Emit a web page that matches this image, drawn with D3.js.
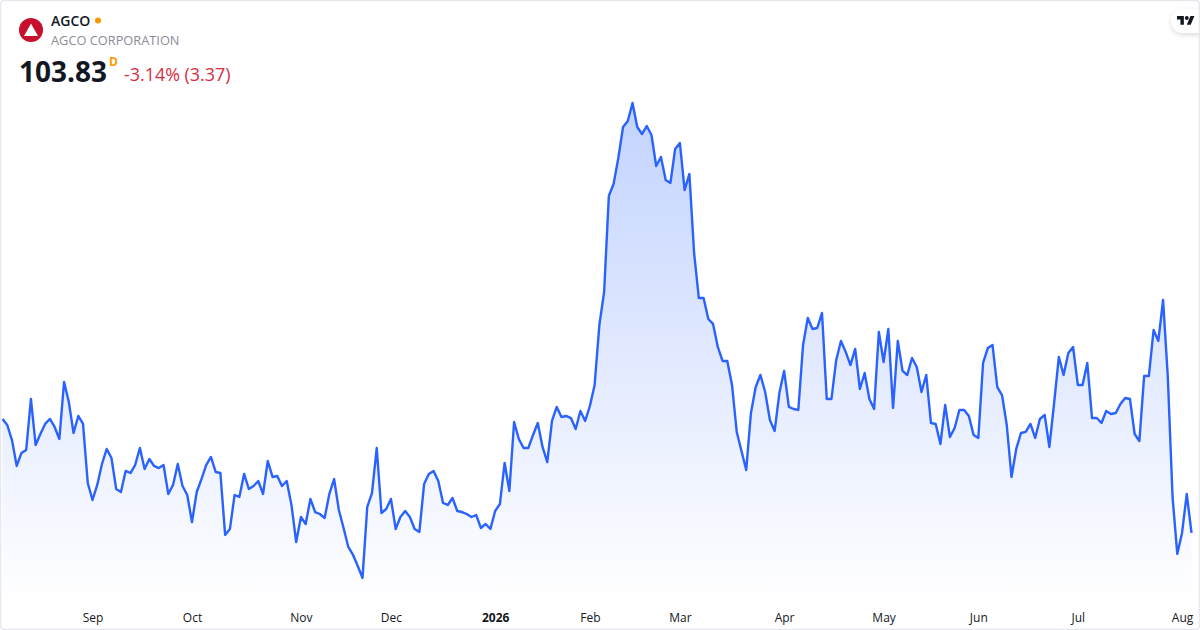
<!DOCTYPE html>
<html><head><meta charset="utf-8">
<script src="https://cdn.jsdelivr.net/npm/d3@7"></script>
<style>
html,body{margin:0;padding:0;background:#fff;width:1200px;height:630px;overflow:hidden}
svg{display:block;font-family:"Open Sans",sans-serif}
</style></head><body>
<div id="chart"></div>
<script>
const symbol = "AGCO";
const companyName = "AGCO CORPORATION";
const lastPrice = "103.83";
const interval = "D";
const changeText = "-3.14% (3.37)";
const closes = [
113.68,113.16,111.86,109.62,110.74,111.00,115.41,111.43,112.38,113.25,113.68,112.99,111.95,116.88,115.15,112.47,113.94,113.25,108.15,106.68,
107.98,109.79,111.09,110.31,107.63,107.37,109.19,109.01,109.70,111.17,109.36,110.22,109.62,109.44,109.70,107.20,107.98,109.79,107.89,107.11,
104.78,107.37,108.49,109.70,110.40,109.10,109.01,103.66,104.17,107.11,106.94,108.93,107.63,107.89,108.32,107.20,110.05,108.67,108.75,107.89,
108.32,106.25,103.05,105.21,104.61,106.77,105.64,105.47,105.12,107.20,108.49,105.82,104.26,102.62,101.93,100.98,99.94,106.08,107.28,111.17,
105.56,105.90,106.77,104.17,105.21,105.73,105.21,104.17,103.92,108.06,108.93,109.19,108.32,106.42,106.25,106.85,105.73,105.64,105.47,105.21,
105.38,104.26,104.61,104.17,105.73,106.33,109.88,107.46,113.42,111.95,111.17,111.17,112.30,113.33,111.26,109.96,113.51,114.72,113.85,113.94,
113.76,112.81,114.37,113.51,114.80,116.62,121.80,124.65,132.95,133.98,136.23,138.91,139.43,140.98,138.91,138.30,138.99,138.22,135.54,136.32,
134.33,134.07,137.01,137.52,133.46,134.85,128.02,124.13,124.13,122.32,121.89,119.90,118.69,118.69,116.62,112.56,110.91,109.27,114.20,116.44,
117.48,116.01,113.59,112.64,115.92,117.83,114.72,114.54,114.46,120.07,122.40,121.45,121.54,122.84,115.41,115.41,118.78,120.42,119.47,118.34,
119.73,116.27,117.65,115.41,114.54,121.20,118.60,121.45,114.63,120.42,117.83,117.48,118.95,118.17,116.01,117.48,113.33,113.25,111.52,114.89,
112.12,112.90,114.46,114.46,113.94,112.30,112.04,118.52,119.81,120.07,116.44,115.75,113.16,108.67,111.09,112.47,112.56,113.25,112.04,113.68,
114.02,111.26,115.06,119.04,117.48,119.38,119.90,116.62,116.62,118.52,113.76,113.76,113.33,114.37,114.11,114.20,114.97,115.49,115.41,112.38,
111.78,117.39,117.39,121.37,120.42,123.96,117.31,106.94,102.02,103.83,107.20,103.83
];
const tickIndexes = [19,40,63,82,104,124,143,165,186,206,227,249];
const tickLabels = ["Sep","Oct","Nov","Dec","2026","Feb","Mar","Apr","May","Jun","Jul","Aug"];

const W = 1200, H = 630;
const svg = d3.select("#chart").append("svg").attr("width", W).attr("height", H);
const defs = svg.append("defs");

const x = d3.scaleLinear().domain([0, closes.length - 1]).range([2.5, 1191.5]);
const y = d3.scaleLinear().domain([99.94, 140.98]).range([578, 103]);
const floorY = 602;

const grad = defs.append("linearGradient").attr("id", "fill")
  .attr("gradientUnits", "userSpaceOnUse").attr("x1", 0).attr("x2", 0).attr("y1", 103).attr("y2", floorY);
grad.append("stop").attr("offset", 0).attr("stop-color", "#2962FF").attr("stop-opacity", 0.28);
grad.append("stop").attr("offset", 1).attr("stop-color", "#2962FF").attr("stop-opacity", 0.0);

const filt = defs.append("filter").attr("id", "sh").attr("x", "-40%").attr("y", "-60%").attr("width", "180%").attr("height", "220%");
filt.append("feDropShadow").attr("dx", 0).attr("dy", 2).attr("stdDeviation", 2.5).attr("flood-color", "#000").attr("flood-opacity", 0.14);

svg.append("rect").attr("width", W).attr("height", H).attr("fill", "#fff");

const area = d3.area().x((d, i) => x(i)).y0(floorY).y1(d => y(d));
const line = d3.line().x((d, i) => x(i)).y(d => y(d));
svg.append("path").datum(closes).attr("d", area).attr("fill", "url(#fill)");
svg.append("path").datum(closes).attr("d", line).attr("fill", "none")
  .attr("stroke", "#2962FF").attr("stroke-width", 2.4).attr("stroke-linejoin", "round");

const axis = d3.axisBottom(x).tickValues(tickIndexes)
  .tickFormat((d, i) => tickLabels[i]).tickSize(0).tickPadding(0);
const gx = svg.append("g").attr("transform", "translate(0,612)").call(axis);
gx.select(".domain").remove();
gx.selectAll("text").attr("dy", 0).attr("y", 10)
  .attr("font-family", '"Open Sans",sans-serif').attr("font-size", 12).attr("fill", "#131722")
  .attr("font-weight", (d, i) => tickLabels[i] === "2026" ? 700 : 400);

// header
svg.append("circle").attr("cx", 31).attr("cy", 30).attr("r", 12).attr("fill", "#C8102E");
svg.append("path").attr("d", "M31 23.5L38 36H24Z").attr("fill", "#fff");
svg.append("text").attr("x", 51).attr("y", 26).attr("font-size", 14).attr("font-weight", 600).attr("fill", "#131722").text(symbol);
svg.append("circle").attr("cx", 98).attr("cy", 20.5).attr("r", 3).attr("fill", "#FF9800");
svg.append("text").attr("x", 51).attr("y", 45).attr("font-size", 12.8).attr("fill", "#8a8d97").text(companyName);
svg.append("text").attr("x", 19).attr("y", 82).attr("font-size", 28).attr("font-weight", 700).attr("fill", "#131722").text(lastPrice);
svg.append("text").attr("x", 109).attr("y", 66).attr("font-size", 12).attr("font-weight", 700).attr("fill", "#FF9800").text(interval);
svg.append("text").attr("x", 124).attr("y", 81).attr("font-size", 17.9).attr("fill", "#D92D3F").text(changeText);

// logo pill
svg.append("rect").attr("x", 1171).attr("y", 9).attr("width", 50).attr("height", 24).attr("rx", 12)
  .attr("fill", "#fff").attr("filter", "url(#sh)");
const logo = svg.append("g").attr("transform", "translate(1177,16) scale(0.49)").attr("fill", "#131722");
logo.append("path").attr("d", "M14 18H7V7H0V0h14v18zM28 18h-8L27.5 0h8L28 18z");
logo.append("circle").attr("cx", 20).attr("cy", 4).attr("r", 4);

// frame
svg.append("rect").attr("x", 0.5).attr("y", 0.5).attr("width", W - 1).attr("height", H - 1).attr("rx", 4)
  .attr("fill", "none").attr("stroke", "#E6E8EE").attr("stroke-width", 1.5);
</script>
</body></html>
